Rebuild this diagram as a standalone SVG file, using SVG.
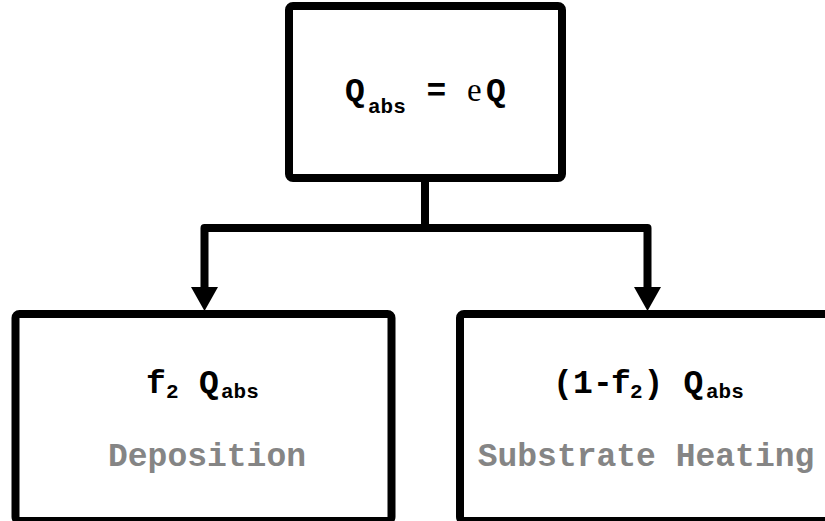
<svg xmlns="http://www.w3.org/2000/svg" width="825" height="521" viewBox="0 0 825 521">
<style>
.box{fill:#fff;stroke:#000;stroke-width:8}
.con{fill:none;stroke:#000;stroke-width:8;stroke-linejoin:round}
.head{fill:#000;stroke:none}
.m{font-family:"Liberation Mono","Courier New",monospace;font-weight:bold;font-size:33px;fill:#000}
.s{font-size:21px}
.e{font-family:"Liberation Serif","Times New Roman",serif;font-weight:normal;font-size:33px}
.g{font-family:"Liberation Mono","Courier New",monospace;font-weight:bold;font-size:33px;fill:#858585;text-anchor:middle}
</style>
<rect width="825" height="521" fill="#fff"/>
<g id="connectors">
<path class="con" d="M425,182 V228 H204.5 V292"/>
<path class="con" d="M425,228 H647.5 V292"/>
<polygon class="head" points="191,287 218,287 204.5,311"/>
<polygon class="head" points="634,287 661,287 647.5,311"/>
</g>
<g id="node-top">
<rect class="box" x="289" y="6" width="273" height="172" rx="4"/>
<text class="m" y="101"><tspan x="345">Q</tspan><tspan class="s" x="368" y="113">abs</tspan><tspan x="426.5" y="101">=</tspan><tspan class="e" x="467">e</tspan><tspan x="486">Q</tspan></text>
</g>
<g id="node-deposition">
<rect class="box" x="15.5" y="314" width="376" height="207" rx="4"/>
<text class="m" y="393"><tspan x="146">f</tspan><tspan class="s" x="166" y="398">2</tspan><tspan x="199" y="393">Q</tspan><tspan class="s" x="221" y="398">abs</tspan></text>
<text class="g" x="207" y="466">Deposition</text>
</g>
<g id="node-substrate">
<rect class="box" x="460" y="314" width="376" height="207" rx="4"/>
<text class="m" y="393"><tspan x="553">(</tspan><tspan x="573">1</tspan><tspan x="593">-</tspan><tspan x="611">f</tspan><tspan class="s" x="630" y="398">2</tspan><tspan x="643.5" y="393">)</tspan><tspan x="683.5">Q</tspan><tspan class="s" x="706" y="398">abs</tspan></text>
<text class="g" x="646" y="466">Substrate Heating</text>
</g>
</svg>
